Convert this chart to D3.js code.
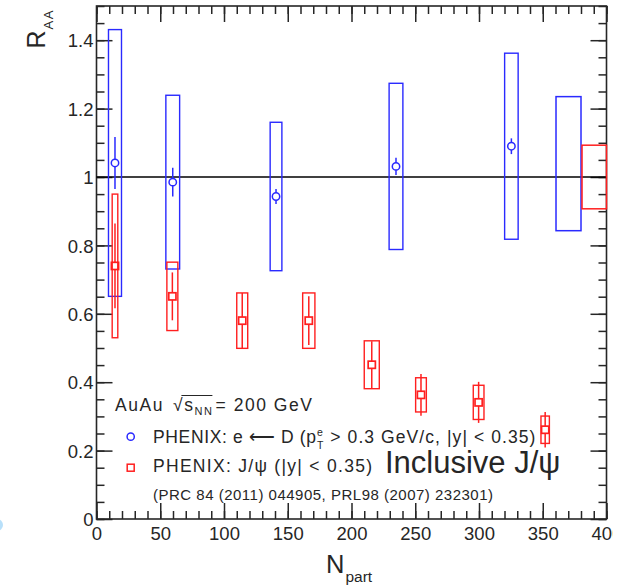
<!DOCTYPE html>
<html>
<head>
<meta charset="utf-8">
<script src="https://cdn.jsdelivr.net/npm/d3@7"></script>
<style>
    body { margin: 0; background: #fff; }
    svg text { font-family: "Liberation Sans", Arial, Helvetica, sans-serif; fill: #262626; }
</style>
</head>
<body>
<div id="chartcanvas"></div>
<script>
// PHENIX e <- D, AuAu 200 GeV
const npartHF = [14.5, 59.8, 140.8, 234.9, 325.4];
const raaHF = [1.041, 0.985, 0.943, 1.031, 1.090];
const statHF = [0.076, 0.042, 0.022, 0.025, 0.023];
const sysHF = [0.390, 0.254, 0.217, 0.243, 0.272];
const boxHF = [5.1, 5.4, 4.6, 5.4, 5.3];

// PHENIX inclusive J/psi, |y| < 0.35
const npartJpsi = [14.5, 59.5, 114.3, 166.5, 215.9, 254.5, 299.7, 351.9];
const raaJpsi = [0.740, 0.651, 0.580, 0.580, 0.451, 0.363, 0.341, 0.261];
const statJpsi = [0.124, 0.070, 0.081, 0.071, 0.069, 0.061, 0.060, 0.052];
const sysJpsi = [0.210, 0.100, 0.081, 0.081, 0.070, 0.050, 0.050, 0.040];
const boxJpsi = [2.2, 4.3, 4.3, 4.8, 5.9, 4.2, 4.2, 3.3];

// global uncertainties at the right edge
const globalBoxes = [
    { series: 'hf', n0: 360.4, n1: 380.0, lo: 0.843, hi: 1.235 },
    { series: 'jpsi', n0: 380.8, n1: 400, lo: 0.907, hi: 1.093 }
];

const xTickLabels = [0, 50, 100, 150, 200, 250, 300, 350, 400];
const yTickLabels = [0, 0.2, 0.4, 0.6, 0.8, 1, 1.2, 1.4];

const chart_svg = (function() {

    const width = 625, height = 587;
    const plot = { left: 96.5, right: 606.5, top: 6, bottom: 519 };
    const BLUE = '#2a2aff', RED = '#ff1f1f', INK = '#262626';

    const x = d3.scaleLinear().domain([0, 400]).range([plot.left, plot.right]);
    const y = d3.scaleLinear().domain([0, 1.5]).range([plot.bottom, plot.top]);

    let svg = d3.select("#chartcanvas")
        .append("svg")
        .attr("width", width)
        .attr("height", height);

    //**** SET CLIPPING (the picture is cut just right of the frame) */
    svg.append("defs").append("clipPath")
        .attr("id", "pageClip")
        .append("rect")
        .attr("x", 0).attr("y", 0)
        .attr("width", 613).attr("height", height);

    let main_g = svg.append("g").attr("clip-path", "url(#pageClip)");

    // small light blue blob on the left border of the picture
    main_g.append("circle")
        .attr("cx", -3).attr("cy", 525).attr("r", 6)
        .attr("fill", "#b8e0fa");

    //******** AXIS */
    const axis_g = main_g.append("g").attr("class", "axis_g").attr("color", INK);

    const addAxis = (axis, tx, ty) => {
        const g = axis_g.append("g").attr("transform", "translate(" + tx + "," + ty + ")").call(axis);
        g.select(".domain").remove();
        g.selectAll(".tick line").attr("stroke-width", 1.5);
        return g;
    };

    const fmtY = d => String(+d.toFixed(2));

    // minor ticks
    addAxis(d3.axisBottom(x).tickValues(d3.range(0, 401, 10)).tickSize(-8).tickFormat(""), 0, plot.bottom);
    addAxis(d3.axisTop(x).tickValues(d3.range(0, 401, 10)).tickSize(-8).tickFormat(""), 0, plot.top);
    addAxis(d3.axisLeft(y).tickValues(d3.range(0, 1.501, 0.05)).tickSize(-8).tickFormat(""), plot.left, 0);
    addAxis(d3.axisRight(y).tickValues(d3.range(0, 1.501, 0.05)).tickSize(-8).tickFormat(""), plot.right, 0);

    // major ticks + labels
    addAxis(d3.axisBottom(x).tickValues(xTickLabels).tickSizeInner(-16).tickSizeOuter(0)
        .tickPadding(8).tickFormat(d3.format("d")), 0, plot.bottom);
    addAxis(d3.axisTop(x).tickValues(xTickLabels).tickSizeInner(-16).tickSizeOuter(0).tickFormat(""), 0, plot.top);
    const yl = addAxis(d3.axisLeft(y).tickValues(yTickLabels).tickSizeInner(-16).tickSizeOuter(0)
        .tickPadding(3).tickFormat(fmtY), plot.left, 0);
    addAxis(d3.axisRight(y).tickValues(yTickLabels).tickSizeInner(-16).tickSizeOuter(0).tickFormat(""), plot.right, 0);

    axis_g.selectAll(".tick text").style("font-size", "18.5px").attr("fill", INK)
        .attr("font-family", null);
    yl.selectAll(".tick text").attr("dy", "0.36em");

    //******* FRAME */
    main_g.append("rect")
        .attr("x", plot.left).attr("y", plot.top)
        .attr("width", plot.right - plot.left).attr("height", plot.bottom - plot.top)
        .attr("fill", "none").attr("stroke", INK).attr("stroke-width", 1.6);

    // R_AA = 1 line
    main_g.append("line")
        .attr("x1", x(0)).attr("x2", x(400))
        .attr("y1", y(1)).attr("y2", y(1))
        .attr("stroke", "#000").attr("stroke-width", 1.3);

    //******* GLOBAL BOXES */
    main_g.append("g").attr("class", "global_g")
        .selectAll("rect").data(globalBoxes).join("rect")
        .attr("x", d => x(d.n0)).attr("width", d => x(d.n1) - x(d.n0))
        .attr("y", d => y(d.hi)).attr("height", d => y(d.lo) - y(d.hi))
        .attr("fill", "none")
        .attr("stroke", d => d.series === 'hf' ? BLUE : RED)
        .attr("stroke-width", 1.5);

    //******* SERIES */
    const drawSeries = (cls, npart, raa, stat, sys, box, colour, marker) => {
        const pts = npart.map((n, i) => ({ n: n, v: raa[i], stat: stat[i], sys: sys[i], hw: box[i] }));
        const g = main_g.append("g").attr("class", cls);
        const half = marker === 'circle' ? 3.7 : 3.6;

        // systematic boxes
        g.selectAll("rect.sys").data(pts).join("rect").attr("class", "sys")
            .attr("x", d => x(d.n - d.hw)).attr("width", d => x(d.n + d.hw) - x(d.n - d.hw))
            .attr("y", d => y(d.v + d.sys)).attr("height", d => y(d.v - d.sys) - y(d.v + d.sys))
            .attr("fill", "none").attr("stroke", colour).attr("stroke-width", 1.4);

        // stat error bars, stopped at the marker edge
        const segs = [];
        pts.forEach(d => {
            const yc = y(d.v);
            if (y(d.v + d.stat) < yc - half) segs.push({ n: d.n, y1: y(d.v + d.stat), y2: yc - half });
            if (y(d.v - d.stat) > yc + half) segs.push({ n: d.n, y1: yc + half, y2: y(d.v - d.stat) });
        });
        g.selectAll("line.stat").data(segs).join("line").attr("class", "stat")
            .attr("x1", d => x(d.n)).attr("x2", d => x(d.n))
            .attr("y1", d => d.y1).attr("y2", d => d.y2)
            .attr("stroke", colour).attr("stroke-width", 1.5);

        // markers
        if (marker === 'circle') {
            g.selectAll("circle").data(pts).join("circle")
                .attr("cx", d => x(d.n)).attr("cy", d => y(d.v)).attr("r", half)
                .attr("fill", "none").attr("stroke", colour).attr("stroke-width", 1.5);
        } else {
            g.selectAll("rect.mk").data(pts).join("rect").attr("class", "mk")
                .attr("x", d => x(d.n) - half).attr("y", d => y(d.v) - half)
                .attr("width", 2 * half).attr("height", 2 * half)
                .attr("fill", "none").attr("stroke", colour).attr("stroke-width", 1.7);
        }
    };

    drawSeries("hf_g", npartHF, raaHF, statHF, sysHF, boxHF, BLUE, 'circle');
    drawSeries("jpsi_g", npartJpsi, raaJpsi, statJpsi, sysJpsi, boxJpsi, RED, 'square');

    //** labels */
    const labels_g = main_g.append("g").attr("class", "labels_g");

    // y title R_AA (rotated)
    const yt = labels_g.append("text")
        .attr("transform", "translate(45,48.5) rotate(-90)");
    yt.append("tspan").style("font-size", "25px").text("R");
    yt.append("tspan").attr("dy", 8).attr("dx", 1).style("font-size", "13px")
        .style("letter-spacing", "1.5px").text("AA");

    // x title N_part
    const xt = labels_g.append("text").attr("x", 326).attr("y", 573);
    xt.append("tspan").style("font-size", "25.5px").text("N");
    xt.append("tspan").attr("dy", 8.5).attr("dx", 1).style("font-size", "15.5px").text("part");

    //** legend */
    const legend_g = labels_g.append("g").attr("class", "legend_g");

    // the original font is set wider than Liberation, so each line gets its measured length
    const header = legend_g.append("text").attr("x", 115).attr("y", 410.7).style("font-size", "17.5px")
        .attr("textLength", 197).attr("lengthAdjust", "spacing");
    header.append("tspan").text("AuAu");
    header.append("tspan").attr("dx", 9).text("√");
    header.append("tspan").text("s");
    header.append("tspan").attr("dy", 4).style("font-size", "11px").text("NN");
    header.append("tspan").attr("dy", -4).attr("dx", 2).text("= 200 GeV");
    const hn = header.node();
    legend_g.append("line")
        .attr("x1", hn.getEndPositionOfChar(4).x - 1.2).attr("x2", hn.getEndPositionOfChar(7).x + 0.5)
        .attr("y1", 395.5).attr("y2", 395.5)
        .attr("stroke", INK).attr("stroke-width", 1);

    // text with a stacked super/subscript part
    const richText = (g, x0, y0, size, parts) => {
        let cx = x0;
        parts.forEach(p => {
            if (p.t !== undefined) {
                const t = g.append("text").attr("x", cx).attr("y", y0).style("font-size", size + "px")
                    .style("white-space", "pre").text(p.t);
                if (p.len) t.attr("textLength", p.len).attr("lengthAdjust", "spacing");
                cx += p.len || t.node().getComputedTextLength();
            } else {
                const s = size * 0.6;
                const a = g.append("text").attr("x", cx + 1).attr("y", y0 - size * 0.42)
                    .style("font-size", s + "px").text(p.sup);
                const b = g.append("text").attr("x", cx + 1).attr("y", y0 + size * 0.3)
                    .style("font-size", s + "px").text(p.sub);
                cx += Math.max(a.node().getComputedTextLength(), b.node().getComputedTextLength()) + 2;
            }
        });
        return cx;
    };

    const legRows = [
        { y: 443.3, colour: BLUE, marker: 'circle',
          parts: [{ t: "PHENIX: e ⟵ D (p", len: 163 }, { sup: "e", sub: "T" },
                  { t: " > 0.3 GeV/c, |y| < 0.35)", len: 211 }] },
        { y: 471.7, colour: RED, marker: 'square',
          parts: [{ t: "PHENIX: J/ψ (|y| < 0.35)", len: 219 }] }
    ];

    legRows.forEach(r => {
        if (r.marker === 'circle') {
            legend_g.append("circle").attr("cx", 130.7).attr("cy", r.y - 6.6).attr("r", 3.6)
                .attr("fill", "none").attr("stroke", r.colour).attr("stroke-width", 1.5);
        } else {
            legend_g.append("rect").attr("x", 127.2).attr("y", r.y - 7.5).attr("width", 7).attr("height", 7)
                .attr("fill", "none").attr("stroke", r.colour).attr("stroke-width", 1.5);
        }
        richText(legend_g, 153, r.y, 17.5, r.parts);
    });

    legend_g.append("text").attr("x", 153).attr("y", 500).style("font-size", "15px")
        .attr("textLength", 340).attr("lengthAdjust", "spacing")
        .text("(PRC 84 (2011) 044905, PRL98 (2007) 232301)");

    legend_g.append("text").attr("x", 385).attr("y", 473.3).style("font-size", "31px")
        .text("Inclusive J/ψ");

    return { svg, x, y };
})();
</script>
</body>
</html>
